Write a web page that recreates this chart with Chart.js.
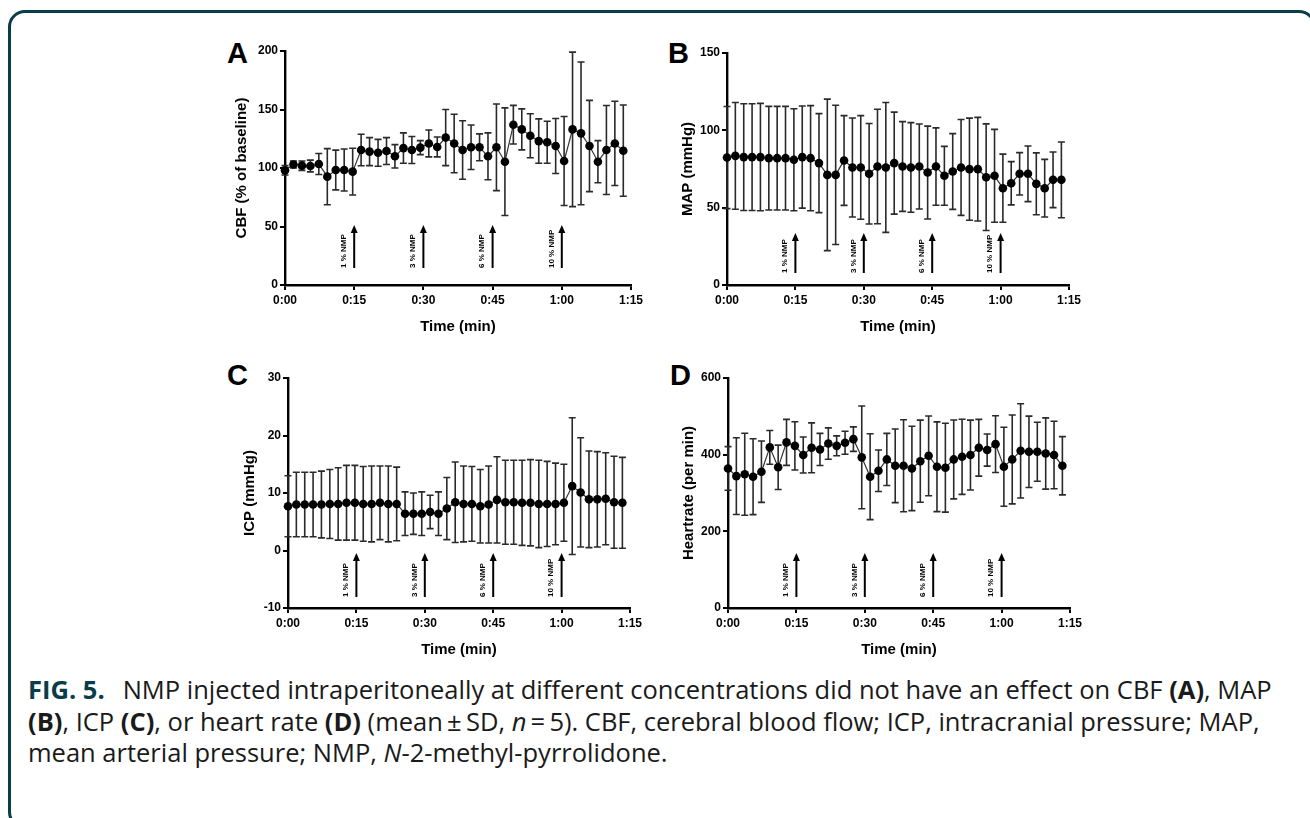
<!DOCTYPE html>
<html>
<head>
<meta charset="utf-8">
<script src="https://cdn.jsdelivr.net/npm/chart.js@4.4.0/dist/chart.umd.min.js"></script>
<style>
  body { margin: 0; background: #fff; width: 1310px; height: 818px; overflow: hidden; position: relative;
         font-family: "Liberation Sans", Arial, sans-serif; }
  #frame { position: absolute; left: 8px; top: 10px; width: 1308px; height: 819px;
           border: 3px solid #0b3c49; border-radius: 17px; box-sizing: border-box; }
  canvas { position: absolute; }
  .letter { position: absolute; font: bold 29px "Liberation Sans", Arial, sans-serif; line-height: 1; color: #000; }
  #caption { position: absolute; left: 28px; top: 674px; width: 1280px; font-family: "Open Sans", sans-serif;
             font-size: 25.5px; line-height: 31.5px; color: #1a1a1a; white-space: nowrap; }
  #caption .fig { color: #0b3c49; font-weight: bold; margin-right: 18px; }
</style>
</head>
<body>
<div id="frame"></div>

<div class="letter" style="left:227px; top:39px;">A</div>
<div class="letter" style="left:668px; top:39px;">B</div>
<div class="letter" style="left:227px; top:361px;">C</div>
<div class="letter" style="left:670px; top:361px;">D</div>

<canvas id="chartA" width="435" height="320" style="left:215px; top:25px;"></canvas>
<canvas id="chartB" width="440" height="320" style="left:650px; top:25px;"></canvas>
<canvas id="chartC" width="435" height="320" style="left:215px; top:345px;"></canvas>
<canvas id="chartD" width="440" height="320" style="left:650px; top:345px;"></canvas>

<div id="caption"><span class="fig">FIG. 5.</span>NMP injected intraperitoneally at different concentrations did not have an effect on CBF <b>(A)</b>, MAP<br><b>(B)</b>, ICP <b>(C)</b>, or heart rate <b>(D)</b> (mean&#8201;&plusmn;&#8201;SD, <i>n</i>&#8201;=&#8201;5). CBF, cerebral blood flow; ICP, intracranial pressure; MAP,<br>mean arterial pressure; NMP, <i>N</i>-2-methyl-pyrrolidone.</div>

<script>
// time points (min)
const times = [0, 1.83, 3.67, 5.5, 7.33, 9.17, 11, 12.83, 14.67, 16.5, 18.33, 20.17, 22, 23.83,
  25.67, 27.5, 29.33, 31.17, 33, 34.83, 36.67, 38.5, 40.33, 42.17, 44, 45.83, 47.67, 49.5,
  51.33, 53.17, 55, 56.83, 58.67, 60.5, 62.33, 64.17, 66, 67.83, 69.67, 71.5, 73.33];

// injections
const injectionTimes = [15, 30, 45, 60];
const injectionLabels = ["1 % NMP", "3 % NMP", "6 % NMP", "10 % NMP"];

// A: CBF (% of baseline)
const cbfMean = [98, 103, 102, 101.7, 103.4, 92.6, 98.3, 98.3, 96.9, 115.4, 114, 113, 114.5, 110,
  117, 115.4, 117.4, 121, 118, 126, 121, 115.4, 117.7, 117.7, 110, 117.7, 105.4, 137, 133, 127.6,
  123, 122, 118.8, 106, 133, 129.6, 118.8, 105.4, 115.4, 121, 114.8];
const cbfSd = [4, 3, 4, 5, 9, 24, 17, 18, 20, 13.5, 12, 11.5, 11.5, 10, 13, 11.5, 6, 11.5, 8.5, 24,
  25, 25, 19, 11.5, 20, 37, 46, 16.5, 17.5, 18.8, 19, 18, 23.5, 38, 66, 61, 39, 18, 38, 36, 39];

// B: MAP (mmHg)
const mapMean = [82.4, 83.5, 82.7, 82.7, 82.7, 82, 82, 82, 81, 82.7, 82, 78.8, 71.2, 71.2, 80.5,
  76, 76, 71.9, 76.6, 76, 78.8, 76.6, 76, 76.6, 72.7, 76.6, 70.6, 73.4, 76, 74.9, 74.9, 69.7, 70.6,
  62.6, 65.8, 71.9, 71.9, 65.4, 62.6, 68, 68];
const mapSd = [33, 34.5, 34.5, 34.5, 34.7, 33.5, 33.5, 33.5, 33, 33, 34, 32, 49, 45, 29, 32, 33.5,
  32.5, 37, 42, 33, 29, 29, 27.5, 30, 25, 19, 24.5, 31, 33, 33.5, 34.5, 30, 22, 14, 13.7, 18, 20,
  18.6, 18, 24.5];

// C: ICP (mmHg)
const icpMean = [7.7, 8, 8, 8, 8, 8.1, 8.1, 8.3, 8.3, 8.1, 8.1, 8.3, 8.1, 8.1, 6.4, 6.4, 6.4, 6.7,
  6.4, 7.3, 8.4, 8.1, 8.1, 7.7, 8, 8.8, 8.4, 8.4, 8.3, 8.3, 8.1, 8.1, 8.1, 8.3, 11.2, 10.1, 8.9,
  8.9, 9, 8.4, 8.3];
const icpSd = [5.3, 5.6, 5.6, 5.6, 5.8, 6, 6.3, 6.5, 6.5, 6.5, 6.6, 6.4, 6.6, 6.4, 3.8, 3.6, 3.8,
  2.9, 3.8, 5.4, 7, 6.6, 6.5, 6.4, 6.7, 7.5, 7.3, 7.3, 7.4, 7.5, 7.6, 7.4, 7.1, 6.7, 11.9, 9.5,
  8.4, 8.3, 8, 8, 7.9];

// D: Heartrate (per min)
const hrMean = [364, 344, 349, 342.5, 355.5, 419, 367, 432, 423, 399, 418, 413.6, 429, 423, 431,
  440.5, 393, 342.5, 358, 387.6, 371, 371, 364, 383, 397, 368.5, 366, 387.6, 394.5, 399, 418, 412,
  427.5, 368.5, 387.6, 410, 407.5, 407.5, 403, 399, 371];
const hrSd = [57, 100, 107, 99, 80, 44, 58, 60, 63, 47, 65, 42, 41, 26, 30, 32, 134, 112, 54, 68,
  96, 120, 110, 107, 104, 117, 116, 103, 98, 91, 74, 42, 74, 103, 116, 123, 93, 77, 93, 88, 76];

const xTicks = [0, 15, 30, 45, 60, 75];

const FONT = '"Liberation Sans", Arial, sans-serif';

// error bars + injection arrows
const markPlugin = {
  id: "marks",
  beforeDatasetsDraw(chart) {
    const ctx = chart.ctx;
    const x = chart.scales.x, y = chart.scales.y;
    const ds = chart.data.datasets[0];
    ctx.save();
    ctx.strokeStyle = "#2a2a2a";
    ctx.lineWidth = 1.6;
    ds.data.forEach((p, i) => {
      const px = x.getPixelForValue(p.x);
      const top = y.getPixelForValue(p.y + ds.sd[i]);
      const bot = y.getPixelForValue(p.y - ds.sd[i]);
      ctx.beginPath();
      ctx.moveTo(px, top); ctx.lineTo(px, bot);
      ctx.moveTo(px - 3.5, top); ctx.lineTo(px + 3.5, top);
      ctx.moveTo(px - 3.5, bot); ctx.lineTo(px + 3.5, bot);
      ctx.stroke();
    });
    ctx.restore();
  },
  afterDatasetsDraw(chart) {
    const ctx = chart.ctx;
    const x = chart.scales.x;
    const off = chart.data.datasets[0].arrowOff;
    const bottom = chart.chartArea.bottom;
    const y0 = bottom - off[0], y1 = bottom - off[1];
    ctx.save();
    injectionTimes.forEach((t, i) => {
      const px = x.getPixelForValue(t);
      ctx.strokeStyle = "#000";
      ctx.fillStyle = "#000";
      ctx.lineWidth = 2;
      ctx.beginPath();
      ctx.moveTo(px, y0); ctx.lineTo(px, y1 + 6);
      ctx.stroke();
      ctx.beginPath();
      ctx.moveTo(px, y1); ctx.lineTo(px - 3.5, y1 + 8); ctx.lineTo(px + 3.5, y1 + 8);
      ctx.closePath();
      ctx.fill();
      ctx.save();
      ctx.translate(px - 10.5, y0);
      ctx.rotate(-Math.PI / 2);
      ctx.font = "bold 8px " + FONT;
      ctx.textAlign = "left";
      ctx.textBaseline = "middle";
      ctx.fillText(injectionLabels[i], 0, 0);
      ctx.restore();
    });
    ctx.restore();
  }
};

function fmtTime(v) {
  return Math.floor(v / 60) + ":" + String(v % 60).padStart(2, "0");
}

function makePanel(id, mean, sd, yMin, yMax, yStep, yTitle, box) {
  const points = times.map((t, i) => ({ x: t, y: mean[i] }));
  new Chart(document.getElementById(id), {
    type: "line",
    data: {
      datasets: [{
        data: points,
        sd: sd,
        arrowOff: box.arrow,
        borderColor: "#333",
        borderWidth: 1.2,
        pointRadius: 4.3,
        pointBackgroundColor: "#000",
        pointBorderWidth: 0,
        clip: false
      }]
    },
    options: {
      responsive: false,
      animation: false,
      events: [],
      layout: { padding: box.pad },
      plugins: { legend: { display: false }, tooltip: { enabled: false } },
      scales: {
        x: {
          type: "linear", min: 0, max: 75,
          afterBuildTicks: (s) => { s.ticks = xTicks.map(v => ({ value: v })); },
          afterFit: (s) => { s.height = box.xh; },
          border: { display: true, color: "#000", width: 2.4 },
          grid: { display: true, drawOnChartArea: false, drawTicks: true, tickLength: 5, color: "#000", lineWidth: 2 },
          ticks: { color: "#000", font: { family: FONT, size: 12, weight: "bold" }, padding: 3, maxRotation: 0,
                   callback: (v) => fmtTime(v) },
          title: { display: true, text: "Time (min)", color: "#000", padding: 0,
                   font: { family: FONT, size: 15, weight: "bold" } }
        },
        y: {
          min: yMin, max: yMax,
          afterFit: (s) => { s.width = box.yw; },
          border: { display: true, color: "#000", width: 2.4 },
          grid: { display: true, drawOnChartArea: false, drawTicks: true, tickLength: 5, color: "#000", lineWidth: 2 },
          ticks: { color: "#000", stepSize: yStep, font: { family: FONT, size: 12, weight: "bold" }, padding: 2 },
          title: { display: true, text: yTitle, color: "#000", padding: 0,
                   font: { family: FONT, size: 15, weight: "bold" } }
        }
      }
    },
    plugins: [markPlugin]
  });
}

makePanel("chartA", cbfMean, cbfSd, 0, 200, 50, "CBF (% of baseline)",
  { pad: { left: 18, top: 26, right: 19, bottom: 9 }, yw: 52, xh: 51, arrow: [17, 60] });
makePanel("chartB", mapMean, mapSd, 0, 150, 50, "MAP (mmHg)",
  { pad: { left: 29, top: 28, right: 21, bottom: 9 }, yw: 48, xh: 51, arrow: [12, 52] });
makePanel("chartC", icpMean, icpSd, -10, 30, 10, "ICP (mmHg)",
  { pad: { left: 26, top: 33, right: 20, bottom: 6 }, yw: 47, xh: 51, arrow: [11, 55] });
makePanel("chartD", hrMean, hrSd, 0, 600, 200, "Heartrate (per min)",
  { pad: { left: 30, top: 33, right: 20, bottom: 6 }, yw: 48, xh: 51, arrow: [11, 55] });
</script>
</body>
</html>
